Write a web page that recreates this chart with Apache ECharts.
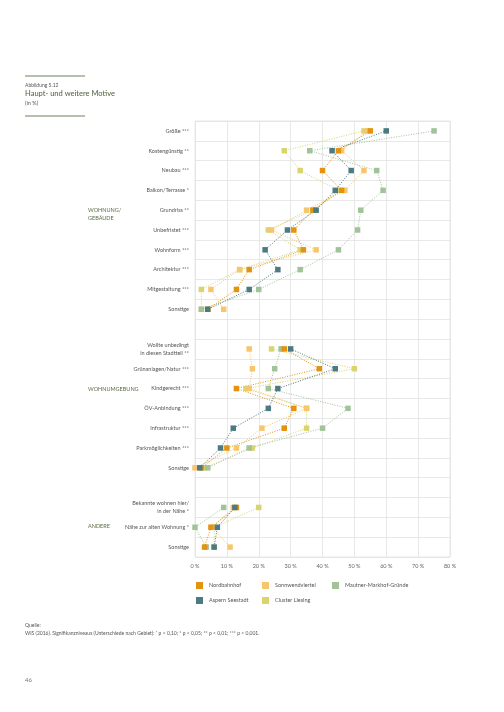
<!DOCTYPE html>
<html>
<head>
<meta charset="utf-8">
<script src="https://cdn.jsdelivr.net/npm/echarts@6/dist/echarts.min.js"></script>
<style>
  html, body { margin: 0; padding: 0; background: #fff; }
  #chart { width: 504px; height: 712px; }
</style>
</head>
<body>
<div id="chart"></div>
<script>
var chartDom = document.getElementById('chart');
var myChart = echarts.init(chartDom);

// categories top to bottom, '' = empty row between sections
var categories = [
  'Größe ***', 'Kostengünstig **', 'Neubau ***', 'Balkon/Terrasse *', 'Grundriss **',
  'Unbefristet ***', 'Wohnform ***', 'Architektur ***', 'Mitgestaltung ***', 'Sonstige',
  '',
  'Wollte unbedingt\nin diesen Stadtteil **', 'Grünanlagen/Natur ***', 'Kindgerecht ***',
  'ÖV-Anbindung ***', 'Infrastruktur ***', 'Parkmöglichkeiten ***', 'Sonstige',
  '',
  'Bekannte wohnen hier/\nin der Nähe *', 'Nähe zur alten Wohnung *', 'Sonstige'
];

var nordbahnhof    = [55, 45, 40, 46, 37, 31, 34, 17, 13, 4, null, 28, 39, 13, 31, 28, 10, 2, null, 13, 5, 3];
var sonnwendviertel = [54, 46, 53, 47, 35, 24, 38, 14, 5, 9, null, 17, 18, 17, 35, 21, 13, 0, null, 12, 5.5, 11];
var mautner        = [75, 36, 57, 59, 52, 51, 45, 33, 20, 2, null, 27, 25, 23, 48, 40, 17, 4, null, 9, 0, 3.5];
var aspern         = [60, 43, 49, 44, 38, 29, 22, 26, 17, 4, null, 30, 44, 26, 23, 12, 8, 1.5, null, 12.5, 7, 6];
var clusterLiesing = [53, 28, 33, 45, 37, 23, 33, 14, 2, 2, null, 24, 50, 16, 35, 35, 18, 3, null, 20, 6, 6];

var xTicks = [0, 10, 20, 30, 40, 50, 60, 70, 80];

var colors = {
  'Nordbahnhof': '#e3930f',
  'Sonnwendviertel': '#f7c66c',
  'Mautner-Markhof-Gründe': '#a2c39a',
  'Aspern Seestadt': '#4c7a80',
  'Cluster Liesing': '#d9d470'
};

var font = 'Lato';
var green = '#5b6b46';

function makeSeries(name, data) {
  return {
    name: name,
    type: 'line',
    data: data,
    symbol: 'rect',
    symbolSize: 5.5,
    connectNulls: false,
    itemStyle: { color: colors[name] },
    lineStyle: { color: colors[name], width: 1, type: [1, 1.5] },
    emphasis: { disabled: true }
  };
}

function legendItem(name, left, top) {
  return {
    data: [name],
    left: left,
    top: top,
    icon: 'rect',
    itemWidth: 7,
    itemHeight: 7,
    itemGap: 0,
    padding: 0,
    textStyle: { fontFamily: font, fontSize: 5.5, color: '#555', padding: [0, 0, 0, 1] }
  };
}

var option = {
  backgroundColor: '#fff',
  animation: false,
  grid: {
    left: 195, right: 54, top: 121, bottom: 155,
    show: true, borderColor: '#e2e2e2', borderWidth: 0.8
  },
  xAxis: {
    type: 'value',
    min: xTicks[0],
    max: xTicks[xTicks.length - 1],
    interval: 10,
    axisLine: { show: false },
    axisTick: { show: false },
    splitLine: { lineStyle: { color: '#e2e2e2', width: 0.8 } },
    axisLabel: {
      formatter: '{value} %',
      fontFamily: font, fontSize: 5.5, color: '#666', margin: 6
    }
  },
  yAxis: {
    type: 'category',
    inverse: true,
    data: categories,
    axisLine: { show: false },
    axisTick: { show: false },
    splitLine: { show: true, lineStyle: { color: '#e2e2e2', width: 0.8 } },
    axisLabel: {
      fontFamily: font, fontSize: 5.5, color: '#555', margin: 6, lineHeight: 8,
      interval: 0
    }
  },
  legend: [
    legendItem('Nordbahnhof', 196, 582),
    legendItem('Sonnwendviertel', 262, 582),
    legendItem('Mautner-Markhof-Gründe', 332, 582),
    legendItem('Aspern Seestadt', 196, 597),
    legendItem('Cluster Liesing', 262, 597)
  ],
  series: [
    makeSeries('Cluster Liesing', clusterLiesing),
    makeSeries('Sonnwendviertel', sonnwendviertel),
    makeSeries('Mautner-Markhof-Gründe', mautner),
    makeSeries('Nordbahnhof', nordbahnhof),
    makeSeries('Aspern Seestadt', aspern)
  ],
  graphic: [
    { type: 'line', shape: { x1: 25, y1: 76, x2: 85, y2: 76 }, style: { stroke: '#6f7f5a', lineWidth: 1 } },
    { type: 'text', left: 25, top: 83, style: { text: 'Abbildung 5.12', font: '5px ' + font, fill: '#555' } },
    { type: 'text', left: 25, top: 90, style: { text: 'Haupt- und weitere Motive', font: '500 7.5px ' + font, fill: green } },
    { type: 'text', left: 25, top: 100, style: { text: '(in %)', font: '5.5px ' + font, fill: '#555' } },
    { type: 'line', shape: { x1: 25, y1: 116, x2: 85, y2: 116 }, style: { stroke: '#6f7f5a', lineWidth: 1 } },
    { type: 'text', left: 88, top: 206, style: { text: 'WOHNUNG/\nGEBÄUDE', font: '5.5px ' + font, fill: green, lineHeight: 8 } },
    { type: 'text', left: 88, top: 386, style: { text: 'WOHNUMGEBUNG', font: '5.5px ' + font, fill: green } },
    { type: 'text', left: 88, top: 523, style: { text: 'ANDERE', font: '5.5px ' + font, fill: green } },
    { type: 'text', left: 25, top: 623, style: { text: 'Quelle:', font: '5px ' + font, fill: '#555' } },
    { type: 'text', left: 25, top: 631, style: { text: 'WIS (2016). Signifikanzniveaus (Unterschiede nach Gebiet): ⁺ p < 0,10; * p < 0,05; ** p < 0,01; *** p < 0,001.', font: '5px ' + font, fill: '#555' } },
    { type: 'text', left: 25, top: 677, style: { text: '46', font: '6px ' + font, fill: '#777' } }
  ]
};

myChart.setOption(option);
window.addEventListener('resize', () => myChart.resize());
</script>
</body>
</html>
